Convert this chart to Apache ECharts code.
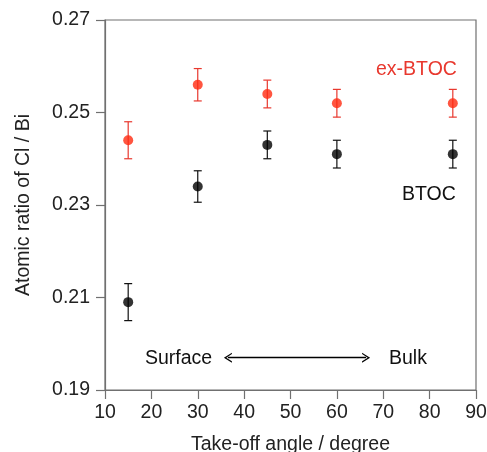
<!DOCTYPE html>
<html><head><meta charset="utf-8">
<script src="https://cdn.jsdelivr.net/npm/echarts@6/dist/echarts.min.js"></script>
<style>html,body{margin:0;padding:0;background:#fff}#c{width:487px;height:452px}</style>
</head><body><div id="c"></div>
<script>
var angles = [15, 30, 45, 60, 85];
var exBTOC = [0.244, 0.256, 0.254, 0.252, 0.252];
var exBTOCErr = [0.004, 0.0035, 0.003, 0.003, 0.003];
var BTOC = [0.209, 0.234, 0.243, 0.241, 0.241];
var BTOCErr = [0.004, 0.0034, 0.003, 0.003, 0.003];
var xTicks = [10, 20, 30, 40, 50, 60, 70, 80, 90];
var yTicks = [0.19, 0.21, 0.23, 0.25, 0.27];
var arrowSpan = [36.5, 66.3];
var arrowY = 0.197;

var FONT = '"Liberation Sans", Arial, sans-serif';
var FS = 19.5;
var chevron = 'path://M0,10 L5,0 L10,10 L8.6,10 L5,3 L1.4,10 Z';

function errData(ys, es) {
  return angles.map(function (x, i) { return [x, ys[i] - es[i], ys[i] + es[i]]; });
}
function errSeries(ys, es, color) {
  return {
    type: 'custom',
    data: errData(ys, es),
    z: 1,
    renderItem: function (params, api) {
      var lo = api.coord([api.value(0), api.value(1)]);
      var hi = api.coord([api.value(0), api.value(2)]);
      var w = 4;
      var st = { stroke: color, lineWidth: 1.2 };
      return { type: 'group', children: [
        { type: 'line', shape: { x1: lo[0], y1: lo[1], x2: hi[0], y2: hi[1] }, style: st },
        { type: 'line', shape: { x1: lo[0] - w, y1: lo[1], x2: lo[0] + w, y2: lo[1] }, style: st },
        { type: 'line', shape: { x1: hi[0] - w, y1: hi[1], x2: hi[0] + w, y2: hi[1] }, style: st }
      ]};
    }
  };
}

var chart = echarts.init(document.getElementById('c'), null, { renderer: 'canvas' });
chart.setOption({
  animation: false,
  backgroundColor: '#fff',
  textStyle: { fontFamily: FONT },
  grid: { left: 105, right: 11, top: 20, bottom: 62, show: true, containLabel: false, outerBoundsMode: 'none',
    borderColor: '#707070', borderWidth: 1.2 },
  xAxis: {
    type: 'value', min: 10, max: 90, interval: 10,
    name: 'Take-off angle / degree', nameLocation: 'middle', nameGap: 45,
    nameTextStyle: { fontSize: FS, color: '#222', fontFamily: FONT },
    axisLine: { lineStyle: { color: '#707070', width: 1.2 } },
    axisTick: { inside: false, length: 9, lineStyle: { color: '#707070', width: 1.2 } },
    axisLabel: { fontSize: FS, color: '#222', margin: 13, fontFamily: FONT,
      formatter: function (v) { return xTicks.indexOf(v) >= 0 ? String(v) : ''; } },
    splitLine: { show: false }
  },
  yAxis: {
    type: 'value', min: 0.19, max: 0.27, interval: 0.02,
    name: 'Atomic ratio of Cl / Bi', nameLocation: 'middle', nameGap: 71,
    nameTextStyle: { fontSize: FS, color: '#222', fontFamily: FONT },
    axisLine: { lineStyle: { color: '#707070', width: 1.2 } },
    axisTick: { inside: false, length: 9, lineStyle: { color: '#707070', width: 1.2 } },
    axisLabel: { fontSize: FS, color: '#222', margin: 15, fontFamily: FONT,
      formatter: function (v) {
        for (var i = 0; i < yTicks.length; i++) if (Math.abs(yTicks[i] - v) < 1e-9) return yTicks[i].toFixed(2);
        return '';
      } },
    splitLine: { show: false }
  },
  series: [
    errSeries(exBTOC, exBTOCErr, '#e8382e'),
    errSeries(BTOC, BTOCErr, '#111'),
    {
      type: 'scatter', z: 3, symbolSize: 10,
      itemStyle: { color: '#ff2a10' },
      data: angles.map(function (x, i) { return [x, exBTOC[i]]; })
    },
    {
      type: 'scatter', z: 3, symbolSize: 10,
      itemStyle: { color: '#000' },
      data: angles.map(function (x, i) { return [x, BTOC[i]]; }),
      markLine: {
        silent: true, symbol: [chevron, chevron], symbolSize: [10, 8],
        label: { show: false },
        lineStyle: { color: '#000', width: 1.4, type: 'solid' },
        data: [[{ coord: [arrowSpan[0], arrowY] }, { coord: [arrowSpan[1], arrowY] }]]
      }
    }
  ],
  graphic: [
    { type: 'text', left: 376, top: 60, style: { text: 'ex-BTOC', fontSize: FS, fill: '#e8382e', fontFamily: FONT } },
    { type: 'text', left: 402, top: 185, style: { text: 'BTOC', fontSize: FS, fill: '#111', fontFamily: FONT } },
    { type: 'text', left: 145, top: 349, style: { text: 'Surface', fontSize: FS, fill: '#111', fontFamily: FONT } },
    { type: 'text', left: 389, top: 349, style: { text: 'Bulk', fontSize: FS, fill: '#111', fontFamily: FONT } }
  ]
});
</script></body></html>
